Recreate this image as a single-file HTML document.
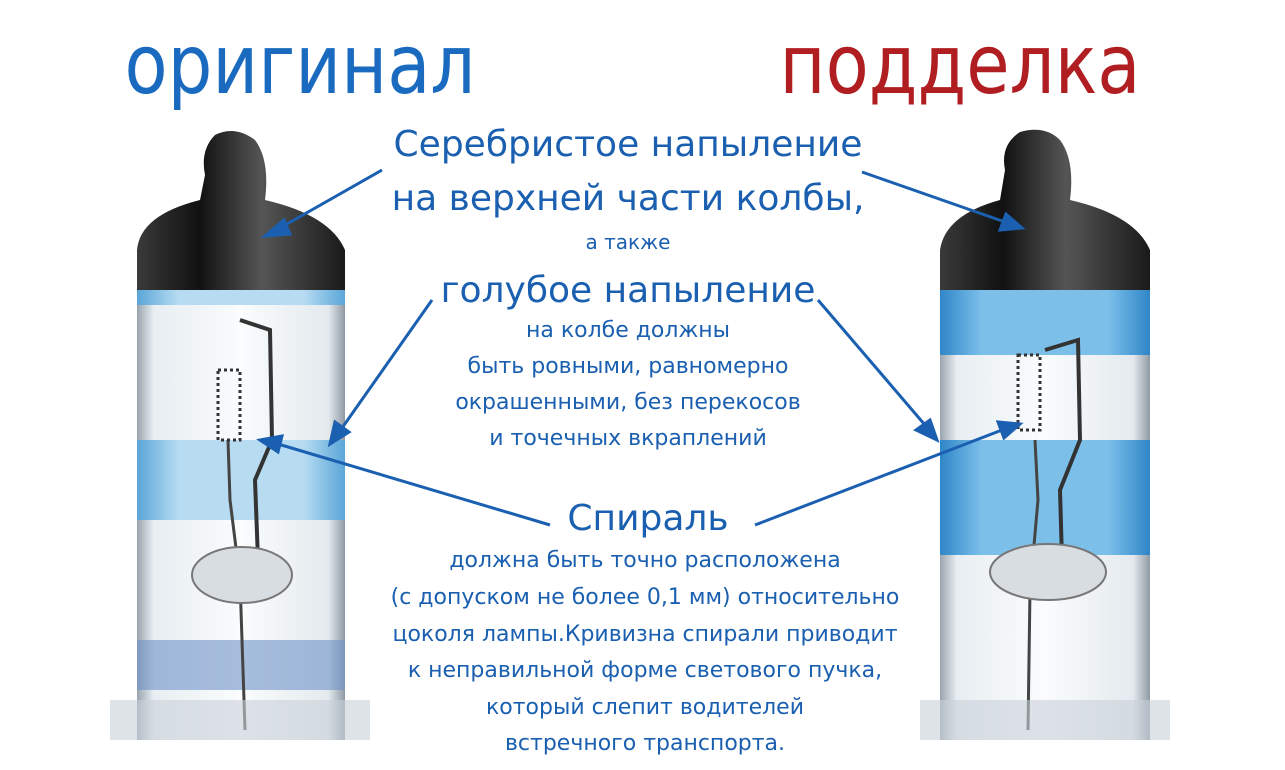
<!DOCTYPE html>
<html><head><meta charset="utf-8"><style>
html,body{margin:0;padding:0;background:#fff}
#c{position:relative;width:1285px;height:770px;overflow:hidden;background:#fff;font-family:"DejaVu Sans","Liberation Sans",sans-serif}
.t{position:absolute;white-space:nowrap;text-align:center;color:#1a5fb0;transform:translateX(-50%)}
.h{transform:translateX(-50%) scaleX(0.86)}
</style></head><body><div id="c">
<svg width="1285" height="770" style="position:absolute;left:0;top:0">
<defs>
<linearGradient id="cap" x1="0" x2="1"><stop offset="0" stop-color="#3a3a3a"/><stop offset=".3" stop-color="#111"/><stop offset=".6" stop-color="#555"/><stop offset="1" stop-color="#1a1a1a"/></linearGradient>
<linearGradient id="gl" x1="0" x2="1"><stop offset="0" stop-color="#9aa4ae"/><stop offset=".08" stop-color="#e8eef2"/><stop offset=".5" stop-color="#fafcfd"/><stop offset=".92" stop-color="#e4eaee"/><stop offset="1" stop-color="#8f9aa4"/></linearGradient>
<linearGradient id="bl" x1="0" x2="1"><stop offset="0" stop-color="#5aa6d8"/><stop offset=".2" stop-color="#b7dcf2"/><stop offset=".8" stop-color="#b7dcf2"/><stop offset="1" stop-color="#5aa6d8"/></linearGradient>
<linearGradient id="bl2" x1="0" x2="1"><stop offset="0" stop-color="#2f86c8"/><stop offset=".2" stop-color="#7cc0ea"/><stop offset=".8" stop-color="#7cc0ea"/><stop offset="1" stop-color="#2f86c8"/></linearGradient>
</defs>
<rect x="137" y="280" width="208" height="460" fill="url(#gl)"/>
<rect x="137" y="285" width="208" height="20" fill="url(#bl)"/>
<rect x="137" y="440" width="208" height="80" fill="url(#bl)"/>
<rect x="137" y="640" width="208" height="50" fill="#6e93c8" opacity=".6"/>
<path d="M137 290 L137 250 Q140 215 200 200 L205 175 Q200 150 215 135 Q235 125 255 140 Q270 160 265 200 Q330 215 345 250 L345 290 Z" fill="url(#cap)"/>
<path d="M240 320 L270 330 L272 440 L255 480 L258 560" stroke="#333" stroke-width="4" fill="none"/>
<path d="M228 440 L230 500 L240 580 L245 730" stroke="#444" stroke-width="3" fill="none"/>
<rect x="218" y="370" width="22" height="70" fill="none" stroke="#333" stroke-width="3" stroke-dasharray="3 3"/>
<ellipse cx="242" cy="575" rx="50" ry="28" fill="#d8dde2" stroke="#777" stroke-width="2"/>
<rect x="110" y="700" width="260" height="40" fill="#c8d0d8" opacity=".6"/>
<rect x="940" y="280" width="210" height="460" fill="url(#gl)"/>
<rect x="940" y="285" width="210" height="70" fill="url(#bl2)"/>
<rect x="940" y="440" width="210" height="115" fill="url(#bl2)"/>
<path d="M940 290 L940 250 Q945 215 1000 200 L1005 170 Q1000 145 1020 132 Q1045 125 1060 140 Q1075 160 1070 200 Q1135 215 1150 250 L1150 290 Z" fill="url(#cap)"/>
<path d="M1045 350 L1078 340 L1080 440 L1060 490 L1062 560" stroke="#333" stroke-width="4" fill="none"/>
<path d="M1035 440 L1038 500 L1030 590 L1028 730" stroke="#444" stroke-width="3" fill="none"/>
<rect x="1018" y="355" width="22" height="75" fill="none" stroke="#333" stroke-width="3" stroke-dasharray="3 3"/>
<ellipse cx="1048" cy="572" rx="58" ry="28" fill="#d8dde2" stroke="#777" stroke-width="2"/>
<rect x="920" y="700" width="250" height="40" fill="#c8d0d8" opacity=".6"/>
<g stroke="#1a5fb0" stroke-width="3" fill="#1a5fb0">
<line x1="382" y1="170" x2="280" y2="228"/><polygon points="265,236 284,220 290,234"/>
<line x1="862" y1="172" x2="1005" y2="222"/><polygon points="1022,228 1000,230 1006,214"/>
<line x1="432" y1="300" x2="342" y2="428"/><polygon points="330,444 335,422 349,432"/>
<line x1="818" y1="300" x2="925" y2="425"/><polygon points="937,440 916,430 930,420"/>
<line x1="550" y1="525" x2="278" y2="444"/><polygon points="260,440 282,436 278,452"/>
<line x1="755" y1="525" x2="1002" y2="430"/><polygon points="1020,424 1004,438 998,422"/>
</g>
</svg>
<div class="t h" style="left:300px;top:18px;font-size:82px;color:#1a6bc0">оригинал</div>
<div class="t h" style="left:960px;top:18px;font-size:82px;color:#b01e22">подделка</div>
<div class="t" style="left:628px;top:124px;font-size:36px">Серебристое напыление</div>
<div class="t" style="left:628px;top:178px;font-size:36px">на верхней части колбы,</div>
<div class="t" style="left:628px;top:230px;font-size:20px">а также</div>
<div class="t" style="left:628px;top:270px;font-size:36px">голубое напыление</div>
<div class="t" style="left:628px;top:318px;font-size:22px">на колбе должны</div>
<div class="t" style="left:628px;top:354px;font-size:22px">быть ровными, равномерно</div>
<div class="t" style="left:628px;top:390px;font-size:22px">окрашенными, без перекосов</div>
<div class="t" style="left:628px;top:426px;font-size:22px">и точечных вкраплений</div>
<div class="t" style="left:648px;top:498px;font-size:36px">Спираль</div>
<div class="t" style="left:645px;top:548px;font-size:22px">должна быть точно расположена</div>
<div class="t" style="left:645px;top:585px;font-size:22px">(с допуском не более 0,1 мм) относительно</div>
<div class="t" style="left:645px;top:622px;font-size:22px">цоколя лампы.Кривизна спирали приводит</div>
<div class="t" style="left:645px;top:658px;font-size:22px">к неправильной форме светового пучка,</div>
<div class="t" style="left:645px;top:695px;font-size:22px">который слепит водителей</div>
<div class="t" style="left:645px;top:731px;font-size:22px">встречного транспорта.</div>
</div></body></html>
